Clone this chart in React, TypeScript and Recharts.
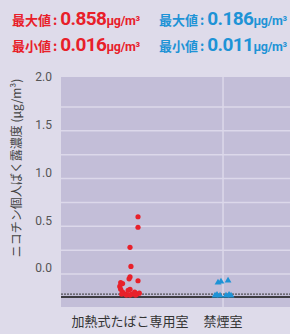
import {
  ScatterChart,
  Scatter,
  XAxis,
  YAxis,
  CartesianGrid,
  ReferenceLine,
} from 'recharts';

const categories = ['加熱式たばこ専用室', '禁煙室'];
const categoryPos = [1, 2];

// 各測定点 (x = カテゴリ位置 + ばらつき, y = 濃度)
const heatedRoom = [
  { x: 1.086, y: 0.6 },
  { x: 1.086, y: 0.49 },
  { x: 1.0, y: 0.28 },
  { x: 1.01, y: 0.08 },
  { x: 1.0, y: -0.03 },
  { x: 0.99, y: -0.05 },
  { x: 1.086, y: -0.07 },
  { x: 0.9, y: -0.09 },
  { x: 0.92, y: -0.1 },
  { x: 0.89, y: -0.13 },
  { x: 0.9, y: -0.16 },
  { x: 0.92, y: -0.19 },
  { x: 0.95, y: -0.21 },
  { x: 0.98, y: -0.17 },
  { x: 1.0, y: -0.16 },
  { x: 1.02, y: -0.21 },
  { x: 1.05, y: -0.19 },
  { x: 1.075, y: -0.21 },
  { x: 1.1, y: -0.2 },
  { x: 0.96, y: -0.22 },
  { x: 0.91, y: -0.21 },
  { x: 1.0, y: -0.22 },
  { x: 1.06, y: -0.22 },
];

const smokeFreeRoom = [
  { x: 1.946, y: -0.084 },
  { x: 1.978, y: -0.073 },
  { x: 2.054, y: -0.063 },
  { x: 1.914, y: -0.22 },
  { x: 1.935, y: -0.21 },
  { x: 1.968, y: -0.22 },
  { x: 2.032, y: -0.22 },
  { x: 2.065, y: -0.21 },
  { x: 2.086, y: -0.22 },
];

const yTicks = [0, 0.5, 1.0, 1.5, 2.0];
const gridValues = [0, 0.25, 0.5, 0.75, 1.0, 1.25, 1.5, 1.75];
const baseLine = -0.24;
const limitLine = -0.21;

const RED = '#e8202a';
const BLUE = '#1e93d6';

const YTick = ({ x, y, payload }: any) => (
  <text
    x={x}
    y={y - 6}
    dy="0.355em"
    textAnchor="end"
    fill="#555"
    fontSize={12}
    fontFamily="Roboto, sans-serif"
  >
    {payload.value.toFixed(1)}
  </text>
);

const YTitle = ({ viewBox }: any) => {
  const cx = viewBox.x - 6;
  const cy = viewBox.y + viewBox.height / 2 - 24;
  return (
    <text
      x={cx}
      y={cy}
      transform={`rotate(-90, ${cx}, ${cy})`}
      textAnchor="middle"
      dominantBaseline="central"
      fill="#444"
      fontSize={12}
      fontFamily="'Noto Sans CJK JP', sans-serif"
    >
      ニコチン個人ばく露濃度 (μg/m³)
    </text>
  );
};

const Dot = ({ cx, cy }: any) => <circle cx={cx} cy={cy} r={2.6} fill={RED} />;

const Tri = ({ cx, cy }: any) => (
  <path
    d={`M${cx},${cy - 3.2} L${cx + 3.4},${cy + 2.4} L${cx - 3.4},${cy + 2.4} Z`}
    fill={BLUE}
  />
);

const Stat = ({ x, y, color, label, value }: any) => (
  <text x={x} y={y} fill={color}>
    <tspan fontSize={13}>{label}</tspan>
    <tspan dx={2} fontSize={13}>:</tspan>
    <tspan dx={3} fontSize={19} fontFamily="Roboto, sans-serif" letterSpacing={-0.6}>
      {value}
    </tspan>
    <tspan fontSize={12.5} fontFamily="Roboto, sans-serif" letterSpacing={-0.3}>
      μg/m³
    </tspan>
  </text>
);

const Header = () => (
  <svg
    width={290}
    height={60}
    style={{ position: 'absolute', left: 0, top: 0 }}
    fontFamily="'Noto Sans CJK JP', sans-serif"
    fontWeight="bold"
  >
    <Stat x={12} y={25} color={RED} label="最大値" value="0.858" />
    <Stat x={12} y={51} color={RED} label="最小値" value="0.016" />
    <Stat x={159} y={25} color={BLUE} label="最大値" value="0.186" />
    <Stat x={159} y={51} color={BLUE} label="最小値" value="0.011" />
  </svg>
);

export default function App() {
  return (
    <div
      style={{
        position: 'absolute',
        left: 0,
        top: 0,
        width: 290,
        height: 334,
        background: '#dedbea',
        overflow: 'hidden',
      }}
    >
      <Header />
      <ScatterChart
        width={290}
        height={334}
        margin={{ top: 77, right: 0, bottom: 0, left: 21 }}
      >
        <CartesianGrid
          fill="#c3bed8"
          stroke="#dcd8ea"
          strokeWidth={1.5}
          horizontalValues={gridValues}
          verticalValues={categoryPos}
        />
        <XAxis
          type="number"
          dataKey="x"
          domain={[0.258, 2.72]}
          ticks={categoryPos}
          tickFormatter={(v: number) => categories[categoryPos.indexOf(v)] ?? ''}
          axisLine={false}
          tickLine={false}
          tickSize={0}
          tickMargin={10}
          height={27}
          tick={{ fill: '#333', fontSize: 13, fontFamily: "'Noto Sans CJK JP', sans-serif" }}
          allowDataOverflow
        />
        <YAxis
          type="number"
          dataKey="y"
          domain={[-0.345, 2.063]}
          ticks={yTicks}
          width={40}
          axisLine={false}
          tickLine={false}
          tickSize={0}
          tickMargin={9}
          tick={<YTick />}
          label={<YTitle />}
          allowDataOverflow
        />
        <ReferenceLine y={limitLine} stroke="#333" strokeDasharray="2 1" />
        <ReferenceLine y={baseLine} stroke="#111" strokeWidth={1.5} />
        <Scatter data={heatedRoom} shape={<Dot />} isAnimationActive={false} />
        <Scatter data={smokeFreeRoom} shape={<Tri />} isAnimationActive={false} />
      </ScatterChart>
    </div>
  );
}
